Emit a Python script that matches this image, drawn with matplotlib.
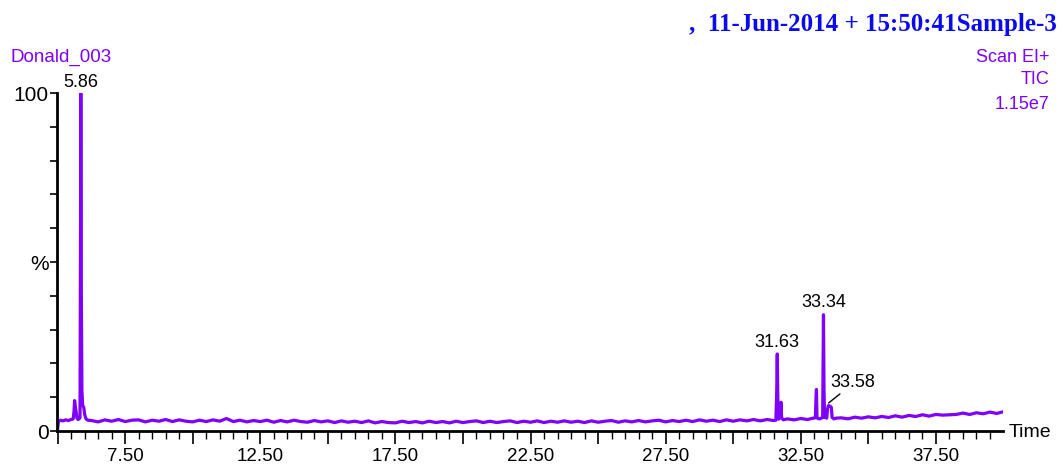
import matplotlib
matplotlib.use('Agg')
import matplotlib.pyplot as plt
from matplotlib.ticker import MultipleLocator, FuncFormatter

# retention time (min) and relative intensity (%)
times = [5.00, 5.03, 5.10, 5.20, 5.30, 5.40, 5.50, 5.58, 5.61, 5.63, 5.67, 5.72, 5.76, 5.80, 5.83,
         5.85, 5.86, 5.88, 5.90, 5.93, 5.97, 6.00, 6.05, 6.12,
         6.25, 6.50, 6.75, 7.00, 7.25, 7.50, 7.75, 8.00, 8.25, 8.50, 8.75, 9.00, 9.25, 9.50, 9.75,
         10.00, 10.25, 10.50, 10.75, 11.00, 11.25, 11.50, 11.75, 12.00, 12.25, 12.50, 12.75,
         13.00, 13.25, 13.50, 13.75, 14.00, 14.25, 14.50, 14.75, 15.00, 15.25, 15.50, 15.75,
         16.00, 16.25, 16.50, 16.75, 17.00, 17.25, 17.50, 17.75, 18.00, 18.25, 18.50, 18.75,
         19.00, 19.25, 19.50, 19.75, 20.00, 20.25, 20.50, 20.75, 21.00, 21.25, 21.50, 21.75,
         22.00, 22.25, 22.50, 22.75, 23.00, 23.25, 23.50, 23.75, 24.00, 24.25, 24.50, 24.75,
         25.00, 25.25, 25.50, 25.75, 26.00, 26.25, 26.50, 26.75, 27.00, 27.25, 27.50, 27.75,
         28.00, 28.25, 28.50, 28.75, 29.00, 29.25, 29.50, 29.75, 30.00, 30.25, 30.50, 30.75,
         31.00, 31.25, 31.50, 31.58, 31.61, 31.63, 31.65, 31.68, 31.72, 31.75, 31.77, 31.79,
         31.85, 32.00, 32.25, 32.50, 32.75, 32.95, 33.04, 33.06, 33.08, 33.10, 33.13, 33.20,
         33.28, 33.31, 33.32, 33.34, 33.36, 33.38, 33.42, 33.46, 33.49, 33.52, 33.58, 33.63,
         33.66, 33.72, 33.80, 34.00, 34.25, 34.50, 34.75, 35.00, 35.25, 35.50, 35.75, 36.00,
         36.25, 36.50, 36.75, 37.00, 37.25, 37.50, 37.75, 38.00, 38.25, 38.50, 38.75, 39.00,
         39.25, 39.50, 39.75, 39.95]
intensity = [0.5, 2.8, 3.2, 3.0, 3.3, 3.1, 3.4, 3.6, 6.0, 9.0, 6.5, 3.8, 3.4, 3.6, 4.0,
             60.0, 100.0, 40.0, 12.0, 7.5, 7.0, 5.0, 3.6, 3.2,
             3.1, 2.7, 3.3, 2.9, 3.4, 2.8, 3.2, 3.3, 2.7, 3.2, 2.9, 3.4, 2.8, 3.3, 2.9,
             2.7, 3.2, 2.8, 3.3, 2.9, 3.7, 2.8, 3.2, 2.7, 3.1, 2.8, 3.2,
             2.6, 3.1, 2.7, 3.2, 2.8, 2.6, 3.1, 2.7, 3.0, 2.5, 3.0, 2.6,
             2.9, 2.5, 3.0, 2.4, 2.8, 2.5, 2.4, 2.9, 2.5, 2.8, 2.4, 2.9,
             2.5, 2.8, 2.4, 2.9, 2.5, 2.8, 3.0, 2.5, 2.9, 2.5, 2.8, 3.0,
             2.5, 2.9, 2.6, 3.0, 2.5, 2.9, 2.6, 3.0, 2.6, 2.9, 2.5, 3.0,
             2.6, 2.9, 3.1, 2.6, 3.0, 2.7, 3.1, 2.7, 3.0, 3.2, 2.7, 3.1,
             2.8, 3.2, 2.8, 3.3, 2.9, 3.2, 2.8, 3.3, 2.9, 3.3, 3.0, 3.4,
             3.0, 3.4, 3.1, 3.2, 12.0, 22.8, 10.0, 3.5, 3.8, 4.5, 8.5, 4.0,
             3.3, 3.6, 3.3, 3.7, 3.4, 3.8, 3.9, 9.0, 12.3, 4.0, 3.7, 3.6,
             3.9, 4.0, 15.0, 34.4, 12.0, 4.0, 4.2, 3.8, 6.5, 7.5, 7.4, 7.0,
             4.0, 3.6, 3.8, 3.9, 3.6, 4.1, 3.8, 4.2, 3.9, 4.3, 4.0, 4.5,
             4.1, 4.6, 4.3, 4.8, 4.4, 4.9, 4.7, 4.8, 4.9, 5.3, 4.9, 5.4,
             5.1, 5.6, 5.2, 5.6]

peak_labels = ['5.86', '31.63', '33.34', '33.58']
peak_times = [5.86, 31.63, 33.34, 33.58]
peak_heights = [100.0, 22.8, 34.4, 7.5]

purple = '#7F00FF'
sans = 'Liberation Sans'

fig = plt.figure(figsize=(10.64, 4.69), dpi=100)
ax = fig.add_axes([0.0536, 0.081, 0.889, 0.7205])

ax.plot(times, intensity, color=purple, linewidth=2.3)

ax.set_xlim(4.98, 39.98)
ax.set_ylim(0, 100)

for s in ['top', 'right']:
    ax.spines[s].set_visible(False)
for s in ['left', 'bottom']:
    ax.spines[s].set_linewidth(2)

ax.xaxis.set_major_locator(MultipleLocator(2.5))
ax.xaxis.set_minor_locator(MultipleLocator(0.5))
ax.xaxis.set_major_formatter(FuncFormatter(
    lambda v, p: '%.2f' % v if abs((v - 7.5) % 5) < 1e-6 else ''))
ax.yaxis.set_major_locator(MultipleLocator(10))
ax.yaxis.set_major_formatter(FuncFormatter(
    lambda v, p: {0: '0', 50: '%', 100: '100'}.get(int(round(v)), '')))

ax.tick_params(axis='x', which='major', length=9, width=1.2, labelsize=13.5, pad=3)
ax.tick_params(axis='x', which='minor', length=6, width=1.0)
ax.tick_params(axis='y', which='major', length=5, width=1.2, labelsize=15, pad=1)
for lab in ax.get_xticklabels() + ax.get_yticklabels():
    lab.set_fontfamily(sans)

# peak labels
ax.text(peak_times[0], peak_heights[0] + 0.5, peak_labels[0], ha='center', va='bottom',
        fontsize=13, family=sans)
ax.text(peak_times[1], peak_heights[1] + 1.0, peak_labels[1], ha='center', va='bottom',
        fontsize=13, family=sans)
ax.text(peak_times[2], peak_heights[2] + 1.0, peak_labels[2], ha='center', va='bottom',
        fontsize=13, family=sans)
ax.annotate(peak_labels[3], xy=(peak_times[3] - 0.05, peak_heights[3] + 0.8),
            xytext=(peak_times[3], peak_heights[3] + 4.3),
            fontsize=13, family=sans, ha='left', va='bottom',
            arrowprops=dict(arrowstyle='-', color='black', lw=1, shrinkA=0, shrinkB=0,
                            relpos=(0.3, 0)))

fig.text(1009 / 1064, 1 - 432 / 469, 'Time', fontsize=14, family=sans, va='center', ha='left')
fig.text(10 / 1064, 1 - 57 / 469, 'Donald_003', fontsize=13.5, family=sans, color=purple,
         va='center', ha='left')
fig.text(1049 / 1064, 1 - 57 / 469, 'Scan EI+', fontsize=13, family=sans, color=purple,
         va='center', ha='right')
fig.text(1049 / 1064, 1 - 80 / 469, 'TIC', fontsize=13, family=sans, color=purple,
         va='center', ha='right')
fig.text(1049 / 1064, 1 - 104 / 469, '1.15e7', fontsize=13, family=sans, color=purple,
         va='center', ha='right')
fig.text(1057 / 1064, 1 - 25 / 469, ',  11-Jun-2014 + 15:50:41Sample-3', fontsize=18,
         family='Liberation Serif', weight='bold', color='#0A0AF0', va='center', ha='right')

fig.savefig('out.png', dpi=100)
